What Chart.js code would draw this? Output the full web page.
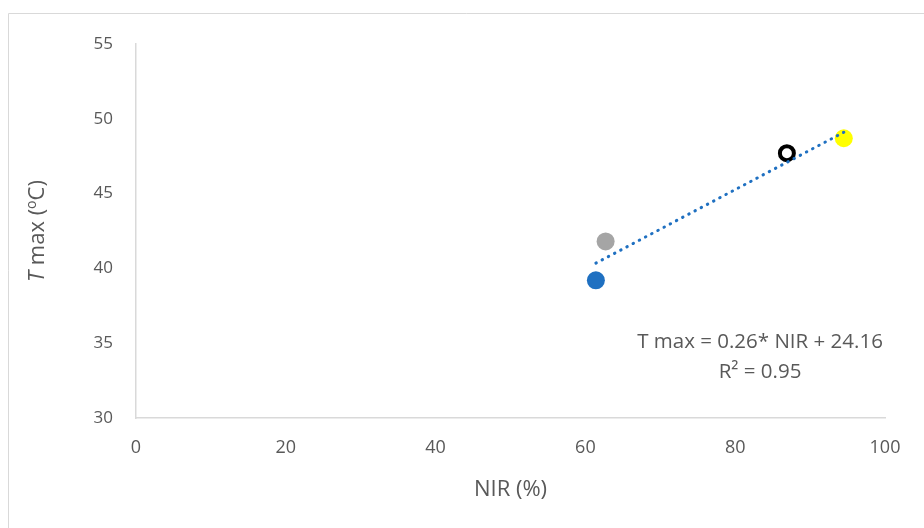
<!DOCTYPE html>
<html lang="en">
<head>
    <meta charset="UTF-8">
    <title>T max vs NIR</title>
    <script src="https://cdn.jsdelivr.net/npm/chart.js"></script>
    <style>
        html, body { margin: 0; padding: 0; background: #fff; }
        #wrap { width: 924px; height: 528px; }
    </style>
</head>
<body>
    <div id="wrap"><canvas id="tmaxChart" width="924" height="528"></canvas></div>

    <script>
        // measured points
        const nirValues = [61.4, 62.7, 86.9, 94.5];
        const tmaxValues = [39.2, 41.8, 47.7, 48.7];
        const pointFill = ['#1f70c1', '#a5a5a5', '#ffffff', '#ffff00'];
        const pointEdge = ['#1f70c1', '#a5a5a5', '#000000', '#ffff00'];
        const pointSize = [9, 9, 7, 9];
        const pointEdgeWidth = [0, 0, 4, 0];

        // linear trend line (ends as drawn)
        const trendNir = [61.4, 94.5];
        const trendTmax = [40.35, 49.1];

        const xTicks = [0, 20, 40, 60, 80, 100];
        const yTicks = [30, 35, 40, 45, 50, 55];

        const eqLines = ['T max = 0.26* NIR + 24.16', 'R² = 0.95'];

        const grey = '#595959';
        const fontFam = "'Open Sans', sans-serif";

        const extras = {
            id: 'extras',
            afterDraw(chart) {
                const c = chart.ctx;
                const area = chart.chartArea;
                c.save();
                // outer frame (left + top)
                c.strokeStyle = '#d9d9d9';
                c.lineWidth = 1;
                c.beginPath();
                c.moveTo(8.5, 528);
                c.lineTo(8.5, 13.5);
                c.lineTo(924, 13.5);
                c.stroke();

                // y axis title: italic T + " max (ºC)"
                c.translate(38, (area.top + area.bottom) / 2);
                c.rotate(-Math.PI / 2);
                c.fillStyle = grey;
                c.textBaseline = 'middle';
                const italic = 'italic 22px ' + fontFam;
                const normal = '22px ' + fontFam;
                const small = '14px ' + fontFam;
                c.font = italic;
                const wT = c.measureText('T').width;
                c.font = normal;
                const wRest = c.measureText(' max (').width;
                c.font = small;
                const wO = c.measureText('o').width;
                c.font = normal;
                const wEnd = c.measureText('C)').width;
                let x = -(wT + wRest + wO + wEnd) / 2;
                c.textAlign = 'left';
                c.font = italic; c.fillText('T', x, 0); x += wT;
                c.font = normal; c.fillText(' max (', x, 0); x += wRest;
                c.font = small; c.fillText('o', x, -6); x += wO;
                c.font = normal; c.fillText('C)', x, 0);
                c.restore();

                // equation label
                c.save();
                c.fillStyle = grey;
                c.font = '20.5px ' + fontFam;
                c.textAlign = 'center';
                c.textBaseline = 'middle';
                c.fillText(eqLines[0], 760, 342);
                c.fillText(eqLines[1], 760, 372);
                c.restore();
            }
        };

        const ctx = document.getElementById('tmaxChart').getContext('2d');
        const chart = new Chart(ctx, {
            type: 'scatter',
            data: {
                datasets: [
                    {
                        type: 'line',
                        label: 'Linear',
                        data: trendNir.map((v, i) => ({ x: v, y: trendTmax[i] })),
                        borderColor: '#1f70c1',
                        borderWidth: 3,
                        borderDash: [0.5, 6.5],
                        borderCapStyle: 'round',
                        pointRadius: 0,
                        fill: false
                    },
                    {
                        label: 'T max',
                        data: nirValues.map((v, i) => ({ x: v, y: tmaxValues[i] })),
                        backgroundColor: pointFill,
                        borderColor: pointEdge,
                        borderWidth: pointEdgeWidth,
                        pointRadius: pointSize,
                        pointHoverRadius: pointSize
                    }
                ]
            },
            options: {
                responsive: false,
                animation: false,
                layout: { padding: { left: 0, top: 44, right: 39, bottom: 0 } },
                plugins: { legend: { display: false }, tooltip: { enabled: false } },
                scales: {
                    x: {
                        type: 'linear',
                        min: 0, max: 100,
                        afterBuildTicks: s => { s.ticks = xTicks.map(v => ({ value: v })); },
                        afterFit: s => { s.height = 110; },
                        grid: { display: false, drawTicks: false },
                        border: { color: '#d9d9d9', width: 1.5 },
                        ticks: { color: grey, padding: 19, font: { size: 18, family: fontFam }, maxRotation: 0 },
                        title: {
                            display: true, text: 'NIR (%)', color: grey,
                            font: { size: 22, family: fontFam }, padding: { top: 0, bottom: 25 }
                        }
                    },
                    y: {
                        type: 'linear',
                        min: 30, max: 55,
                        afterBuildTicks: s => { s.ticks = yTicks.map(v => ({ value: v })); },
                        afterFit: s => { s.width = 136; },
                        grid: { display: false, drawTicks: false },
                        border: { color: '#d9d9d9', width: 1.5 },
                        ticks: { color: grey, padding: 23, font: { size: 17, family: fontFam } }
                    }
                }
            },
            plugins: [extras]
        });
    </script>
</body>
</html>
